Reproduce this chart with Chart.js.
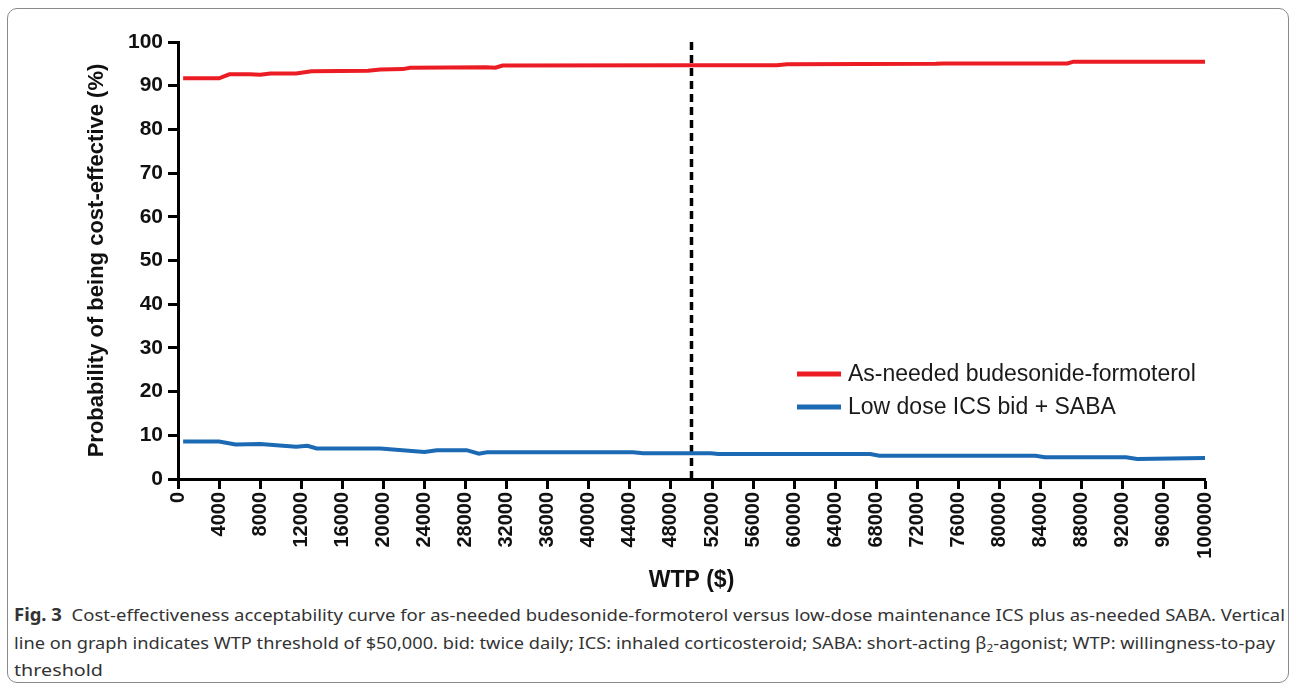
<!DOCTYPE html>
<html>
<head>
<meta charset="utf-8">
<script src="https://cdn.jsdelivr.net/npm/chart.js@4.4.1/dist/chart.umd.min.js"></script>
<style>
  html, body { margin: 0; padding: 0; background: #fff; }
  body { width: 1292px; height: 689px; position: relative; overflow: hidden; }
  #frame { position: absolute; left: 7px; top: 8px; width: 1282px; height: 675px;
           border: 1px solid #8a8a8a; border-radius: 10px; box-sizing: border-box; }
  #wrap { position: absolute; left: 0; top: 0; width: 1292px; height: 600px; }
  #caption { position: absolute; left: 14px; top: 601px; font-family: "Noto Sans", sans-serif;
             font-size: 17px; color: #333; line-height: 27.5px; }
  #caption .row { height: 27.5px; }
  #caption .ln { display: inline-block; white-space: nowrap; transform-origin: left center; }
  #caption sub { font-size: 11px; vertical-align: -3px; line-height: 0; }
</style>
</head>
<body>
<div id="frame"></div>
<div id="wrap"><canvas id="chart" width="1292" height="600"></canvas></div>
<div id="caption">
  <div class="row"><span class="ln" data-w="1271"><b>Fig. 3</b>&nbsp; Cost-effectiveness acceptability curve for as-needed budesonide-formoterol versus low-dose maintenance ICS plus as-needed SABA. Vertical</span></div>
  <div class="row"><span class="ln" data-w="1261">line on graph indicates WTP threshold of $50,000. bid: twice daily; ICS: inhaled corticosteroid; SABA: short-acting β<sub>2</sub>-agonist; WTP: willingness-to-pay</span></div>
  <div class="row"><span class="ln" data-w="89">threshold</span></div>
</div>
<script>
// WTP ($) breakpoints and probability (%)
const budesonideWtp  = [500, 4000, 5000, 7000, 8000, 9000, 11500, 13000, 18500, 19700, 21900, 22600, 30000, 30900, 31600, 50000, 58300, 59300, 73800, 74500, 86600, 87200, 100000];
const budesonideProb = [91.7, 91.7, 92.6, 92.6, 92.5, 92.8, 92.8, 93.3, 93.4, 93.7, 93.8, 94.1, 94.2, 94.1, 94.6, 94.7, 94.7, 94.9, 95.0, 95.1, 95.1, 95.5, 95.5];

const icsWtp  = [500, 4000, 5600, 8000, 11500, 12600, 13500, 19700, 24000, 25200, 28100, 29300, 30100, 44300, 45300, 51900, 52600, 67400, 68300, 83500, 84400, 92300, 93400, 100000];
const icsProb = [8.6, 8.6, 7.9, 8.0, 7.4, 7.6, 7.0, 7.0, 6.2, 6.6, 6.6, 5.8, 6.1, 6.1, 5.9, 5.9, 5.7, 5.7, 5.3, 5.3, 5.0, 5.0, 4.6, 4.8];

const thresholdWtp  = [50000, 50000];
const thresholdProb = [0, 101];

const seriesLabels = ['As-needed budesonide-formoterol', 'Low dose ICS bid + SABA'];
const seriesColors = ['#EC1C24', '#1C6AB4'];

const xMin = 0, xMax = 100000, xStep = 4000;
const yMin = 0, yMax = 100, yStep = 10;

const pts = (xs, ys) => xs.map((x, i) => ({ x, y: ys[i] }));

// legend drawn inside plot, lower right
const innerLegend = {
  id: 'innerLegend',
  afterDatasetsDraw(chart) {
    const ctx = chart.ctx;
    ctx.save();
    ctx.font = '23px "Liberation Sans", Arial, sans-serif';
    ctx.textBaseline = 'middle';
    seriesLabels.forEach((lab, i) => {
      const y = 374 + i * 33;
      ctx.strokeStyle = seriesColors[i];
      ctx.lineWidth = 5;
      ctx.beginPath(); ctx.moveTo(797, y); ctx.lineTo(841, y); ctx.stroke();
      ctx.fillStyle = '#1a1a1a';
      ctx.fillText(lab, 848, y + 1);
    });
    ctx.restore();
  }
};

new Chart(document.getElementById('chart'), {
  type: 'line',
  data: {
    datasets: [
      { label: seriesLabels[0], data: pts(budesonideWtp, budesonideProb), borderColor: seriesColors[0],
        borderWidth: 4, pointRadius: 0, tension: 0 },
      { label: seriesLabels[1], data: pts(icsWtp, icsProb), borderColor: seriesColors[1],
        borderWidth: 4, pointRadius: 0, tension: 0 },
      { label: 'threshold', data: pts(thresholdWtp, thresholdProb), borderColor: '#000',
        borderWidth: 3.5, borderDash: [8, 5], pointRadius: 0, clip: false }
    ]
  },
  options: {
    responsive: false, animation: false,
    layout: { padding: { left: 80, top: 42, right: 87, bottom: 4 } },
    plugins: { legend: { display: false }, tooltip: { enabled: false } },
    scales: {
      x: {
        type: 'linear', min: xMin, max: xMax,
        afterFit(s) { s.height = 600 - 479 - 4; },
        ticks: { stepSize: xStep, autoSkip: false, minRotation: 90, maxRotation: 90, padding: 3,
                 callback: v => String(v),
                 color: '#111', font: { family: '"Liberation Sans", Arial', size: 20, weight: 'bold' } },
        grid: { drawOnChartArea: false, drawTicks: true, tickLength: 10, tickWidth: 3, tickColor: '#000' },
        border: { display: true, color: '#000', width: 3 },
        title: { display: true, text: 'WTP ($)', color: '#111', padding: { top: 0, bottom: 2 },
                 font: { family: '"Liberation Sans", Arial', size: 23, weight: 'bold' } }
      },
      y: {
        min: yMin, max: yMax,
        afterFit(s) { s.width = 178 - 80; },
        ticks: { stepSize: yStep, padding: 5, color: '#111', callback: v => String(v),
                 font: { family: '"Liberation Sans", Arial', size: 21, weight: 'bold' } },
        grid: { drawOnChartArea: false, drawTicks: true, tickLength: 10, tickWidth: 3, tickColor: '#000' },
        border: { display: true, color: '#000', width: 3 },
        title: { display: true, text: 'Probability of being cost-effective (%)', color: '#111', padding: 4,
                 font: { family: '"Liberation Sans", Arial', size: 22, weight: 'bold' } }
      }
    }
  },
  plugins: [innerLegend]
});

// fit caption lines to the reference widths (condensed face)
document.querySelectorAll('#caption .ln').forEach(el => {
  const w = el.getBoundingClientRect().width;
  const target = +el.dataset.w;
  el.style.transform = 'scaleX(' + (target / w) + ')';
});
</script>
</body>
</html>
